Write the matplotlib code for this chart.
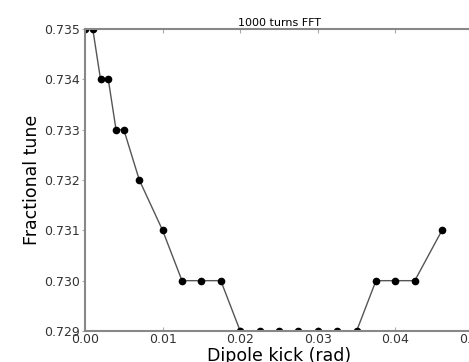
import matplotlib
matplotlib.use("Agg")
import matplotlib.pyplot as plt

# dipole kick (rad) vs fractional tune from 1000-turn FFT
kick = [0.0, 0.001, 0.002, 0.003, 0.004, 0.005, 0.007, 0.010, 0.0125, 0.015, 0.0175,
        0.020, 0.0225, 0.025, 0.0275, 0.030, 0.0325, 0.035, 0.0375, 0.040, 0.0425, 0.046]
tune = [0.735, 0.735, 0.734, 0.734, 0.733, 0.733, 0.732, 0.731, 0.730, 0.730, 0.730,
        0.729, 0.729, 0.729, 0.729, 0.729, 0.729, 0.729, 0.730, 0.730, 0.730, 0.731]
xticks = [0.00, 0.01, 0.02, 0.03, 0.04, 0.05]
yticks = [0.729, 0.730, 0.731, 0.732, 0.733, 0.734, 0.735]

fig = plt.figure(figsize=(4.69, 3.62), dpi=100)
ax = fig.add_axes([85 / 469, 31 / 362, 388 / 469, 302 / 362])
ax.plot(kick, tune, color="#555555", lw=1.0, marker="o", ms=4.5,
        mfc="black", mec="black", clip_on=True)
ax.set_xlim(0, 0.05)
ax.set_ylim(0.729, 0.735)
ax.set_xticks(xticks)
ax.set_xticklabels(["%.2f" % v for v in xticks])
ax.set_yticks(yticks)
ax.set_yticklabels(["%.3f" % v for v in yticks])
ax.tick_params(axis="x", direction="in", top=True, labelsize=9,
               color="#aaaaaa", length=3, pad=1.5, labelcolor="#333333")
ax.tick_params(axis="y", direction="out", right=False, labelsize=9,
               color="#aaaaaa", length=2, pad=1.5, labelcolor="#333333")
for s in ax.spines.values():
    s.set_color("#888888")
    s.set_linewidth(1.5)
ax.set_xlabel("Dipole kick (rad)", fontsize=12.5, labelpad=1)
ax.set_ylabel("Fractional tune", fontsize=12.5, labelpad=2)
ax.set_title("1000 turns FFT", fontsize=8, pad=2)
fig.savefig("out.png", dpi=100)
